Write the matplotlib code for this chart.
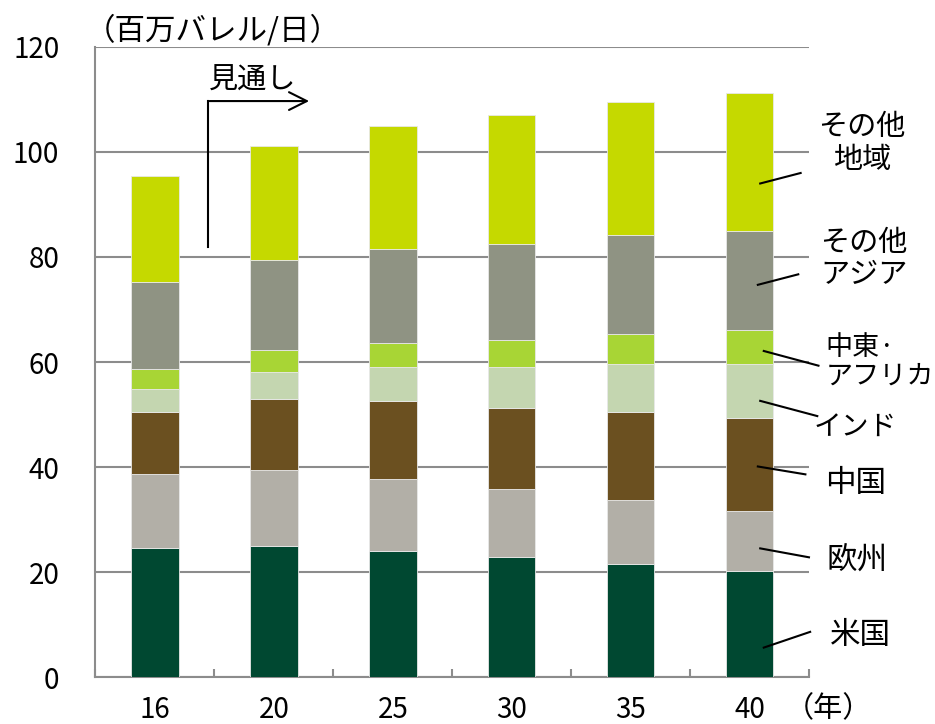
import matplotlib
matplotlib.use('Agg')

import matplotlib.pyplot as plt
import numpy as np

plt.rcParams['font.family'] = ['Noto Sans CJK JP', 'DejaVu Sans']

# data (million barrels per day)
years = ['16', '20', '25', '30', '35', '40']
us = [24.5, 25.0, 24.0, 22.9, 21.5, 20.1]
europe = [14.1, 14.4, 13.7, 12.9, 12.2, 11.5]
china = [11.8, 13.5, 14.8, 15.5, 16.7, 17.8]
india = [4.5, 5.2, 6.6, 7.8, 9.2, 10.2]
mideast = [3.7, 4.1, 4.5, 5.0, 5.8, 6.4]
other_asia = [16.6, 17.3, 17.9, 18.4, 18.7, 19.0]
other = [20.3, 21.7, 23.4, 24.6, 25.4, 26.2]

series = [us, europe, china, india, mideast, other_asia, other]
names = ['米国', '欧州', '中国', 'インド', '中東·\nアフリカ', 'その他\nアジア', 'その他\n地域']
colors = ['#004831', '#b2afa7', '#6b5020', '#c4d6b0', '#a8d535', '#8f9383', '#c5d900']

# label layout: (line start, line end, text position, ha, size) in data coords
label_pos = [
    ((5.12, 5.6), (5.51, 8.6), (5.935, 7.9), 'center', 22),
    ((5.09, 24.5), (5.50, 22.8), (5.90, 22.3), 'center', 22),
    ((5.07, 40.1), (5.47, 38.6), (5.89, 36.8), 'center', 22),
    ((5.09, 52.6), (5.57, 49.7), (5.89, 47.6), 'center', 20),
    ((5.12, 62.1), (5.58, 59.3), (5.64, 60.0), 'left', 19.5),
    ((5.07, 74.7), (5.41, 76.7), (5.96, 79.6), 'center', 21),
    ((5.09, 94.0), (5.43, 96.0), (5.945, 101.6), 'center', 21),
]

fig = plt.figure(figsize=(9.35, 7.24), dpi=100)
ax = fig.add_axes([0.1021, 0.0649, 0.7631, 0.8702])

x = np.arange(len(years))
bottom = np.zeros(len(years))
for vals, c in zip(series, colors):
    ax.bar(x, vals, 0.40, bottom=bottom, color=c, edgecolor='#e8e8e8', linewidth=0.6, zorder=3)
    bottom += np.array(vals)

ax.set_xlim(-0.5, 5.5)
ax.set_ylim(0, 120)
ax.set_yticks(range(0, 121, 20))
ax.yaxis.grid(True, color='#8c8c8c', linewidth=1.5)
ax.set_axisbelow(True)

for s in ['top', 'right']:
    ax.spines[s].set_visible(False)
for s in ['left', 'bottom']:
    ax.spines[s].set_color('#8c8c8c')
    ax.spines[s].set_linewidth(1.5)

ax.set_xticks(x)
ax.set_xticklabels(years)
ax.set_xticks(np.arange(-0.5, 5.6, 1.0), minor=True)
ax.tick_params(axis='x', which='major', length=0, pad=13, labelsize=20)
ax.tick_params(axis='x', which='minor', direction='in', length=6, width=1.5, color='#8c8c8c')
ax.tick_params(axis='y', length=0, pad=26, labelsize=20)

# leader lines and labels
for name, (p0, p1, pt, ha, fs) in zip(names, label_pos):
    ax.plot([p0[0], p1[0]], [p0[1], p1[1]], color='black', lw=1.5, clip_on=False, zorder=5)
    ax.text(pt[0], pt[1], name, fontsize=fs, ha=ha, va='center', multialignment=ha,
            linespacing=1.1, clip_on=False)

# forecast arrow
ax.plot([0.444, 0.444], [81.9, 109.7], color='black', lw=1.5, zorder=5)
ax.annotate('', xy=(1.32, 109.7), xytext=(0.436, 109.7),
            arrowprops=dict(arrowstyle='->', lw=1.5, mutation_scale=32, color='black'))
ax.text(0.825, 113.6, '見通し', fontsize=21, ha='center', va='center')

fig.text(213 / 935, 1 - 31 / 724, '（百万バレル/日）', fontsize=22, ha='center', va='center')
fig.text(828 / 935, 1 - 709 / 724, '（年）', fontsize=21, ha='center', va='center')

fig.savefig('out.png', dpi=100)
